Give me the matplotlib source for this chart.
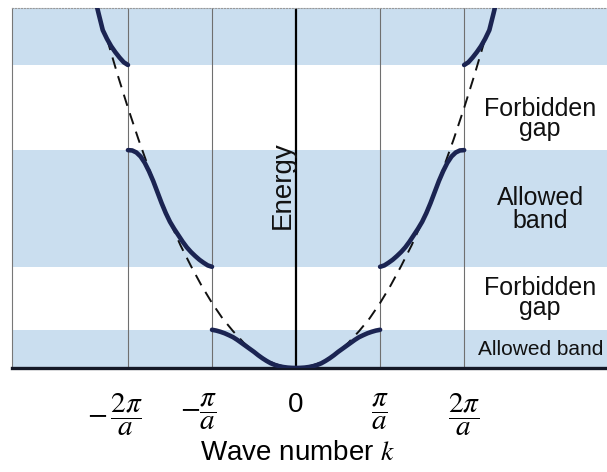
import numpy as np
import matplotlib
matplotlib.use('Agg')
import matplotlib.pyplot as plt
import matplotlib.transforms as mtransforms

plt.rcParams['font.family'] = ['Liberation Sans', 'DejaVu Sans']
plt.rcParams['mathtext.fontset'] = 'stix'

# Wave number in units of pi/a, energy in arbitrary units
k_band1 = [0.0, 0.05, 0.1, 0.15, 0.2, 0.25, 0.3, 0.35, 0.4, 0.45, 0.5,
           0.55, 0.6, 0.65, 0.7, 0.75, 0.8, 0.85, 0.9, 0.95, 1.0]
E_band1 = [0.0, 0.002, 0.006, 0.014, 0.026, 0.045, 0.07, 0.105, 0.145, 0.19, 0.24,
           0.285, 0.33, 0.375, 0.42, 0.46, 0.49, 0.518, 0.54, 0.558, 0.57]

k_band2 = [1.0, 1.05, 1.1, 1.15, 1.2, 1.25, 1.3, 1.35, 1.4, 1.45, 1.5,
           1.55, 1.6, 1.65, 1.7, 1.75, 1.8, 1.85, 1.9, 1.95, 2.0]
E_band2 = [1.51, 1.53, 1.57, 1.615, 1.67, 1.73, 1.80, 1.885, 1.98, 2.075, 2.18,
           2.31, 2.46, 2.625, 2.79, 2.935, 3.06, 3.155, 3.215, 3.245, 3.25]

k_band3 = [2.0, 2.05, 2.1, 2.15, 2.2, 2.25, 2.3, 2.35, 2.4]
E_band3 = [4.52, 4.56, 4.63, 4.71, 4.80, 4.91, 5.04, 5.29, 5.55]

# free electron parabola
k_free = [0.0, 0.125, 0.25, 0.375, 0.5, 0.625, 0.75, 0.875, 1.0, 1.125,
          1.25, 1.375, 1.5, 1.625, 1.75, 1.875, 2.0, 2.125, 2.25]
E_free = [0.0, 0.015, 0.06, 0.136, 0.24, 0.38, 0.55, 0.74, 0.97, 1.23,
          1.52, 1.83, 2.18, 2.56, 2.97, 3.41, 3.88, 4.38, 4.91]

# allowed energy bands (bottom, top)
band_bottoms = [0.0, 1.51, 4.52]
band_tops = [0.57, 3.25, 5.37]

zone_ticks = [-2, -1, 0, 1, 2]
tick_labels = [r'$-\,\dfrac{2\pi}{a}$', r'$-\dfrac{\pi}{a}$', '0',
               r'$\dfrac{\pi}{a}$', r'$\dfrac{2\pi}{a}$']

region_labels = ['Forbidden\ngap', 'Allowed\nband', 'Forbidden\ngap', 'Allowed band']
region_label_E = [3.72, 2.36, 1.04, 0.28]
region_label_k = [2.905, 2.905, 2.905, 2.905]

fig = plt.figure(figsize=(6.07, 4.72), dpi=100)
ax = fig.add_axes([12 / 607, 104 / 472, 595 / 607, 360 / 472])
ax.set_xlim(-3.38, 3.70)
ax.set_ylim(0, 5.37)

band_color = '#cadeef'
for lo, hi in zip(band_bottoms, band_tops):
    ax.axhspan(lo, hi, color=band_color, lw=0, zorder=0)

for kz in [-2, -1, 1, 2]:
    ax.axvline(kz, color='#6f6f6f', lw=0.8, zorder=1)
ax.axvline(0, color='black', lw=1.6, zorder=2)

line_color = '#1b2452'
kf = np.array(k_free)
Ef = np.array(E_free)
ax.plot(np.concatenate([-kf[::-1], kf[1:]]), np.concatenate([Ef[::-1], Ef[1:]]),
        color='#111111', lw=1.4, ls=(0, (6, 4)), zorder=3)

for ks, Es in [(k_band1, E_band1), (k_band2, E_band2), (k_band3, E_band3)]:
    ks = np.array(ks)
    Es = np.array(Es)
    ax.plot(ks, Es, color=line_color, lw=3.3, solid_capstyle='round',
            solid_joinstyle='round', zorder=4)
    ax.plot(-ks, Es, color=line_color, lw=3.3, solid_capstyle='round',
            solid_joinstyle='round', zorder=4)

for txt, kx, ey in zip(region_labels, region_label_k, region_label_E):
    if '\n' in txt:
        size = 18
        spacing = 0.78 if txt.startswith('Forbidden') else 0.95
    else:
        size = 15
        spacing = 1.0
    ax.text(kx, ey, txt, ha='center', va='center', fontsize=size,
            linespacing=spacing, color='#111111', zorder=5)

ax.text(0.0, 2.73, 'Energy', rotation=90, ha='right', va='center',
        fontsize=20, color='#111111', zorder=5)

# frame
ax.spines['right'].set_visible(False)
ax.spines['left'].set_color('#777777')
ax.spines['left'].set_linewidth(0.8)
ax.spines['top'].set_color('#999999')
ax.spines['top'].set_linewidth(0.8)
ax.spines['top'].set_linestyle(':')
ax.spines['bottom'].set_color('#141826')
ax.spines['bottom'].set_linewidth(2.4)

ax.set_yticks([])
ax.set_xticks(zone_ticks)
ax.set_xticklabels(tick_labels, fontsize=21)
ax.tick_params(axis='x', length=0, pad=17)
# shift the negative labels so the fraction sits under the zone line
for lbl, kz in zip(ax.get_xticklabels(), zone_ticks):
    if kz < 0:
        off = mtransforms.ScaledTranslation(-13 / 100, 0, fig.dpi_scale_trans)
        lbl.set_transform(lbl.get_transform() + off)
    if kz == 0:
        lbl.set_fontsize(20)

ax.set_xlabel(r'Wave number $k$', fontsize=20)
ax.xaxis.set_label_coords(286 / 595, -0.2)

fig.savefig('out.png', dpi=100)
